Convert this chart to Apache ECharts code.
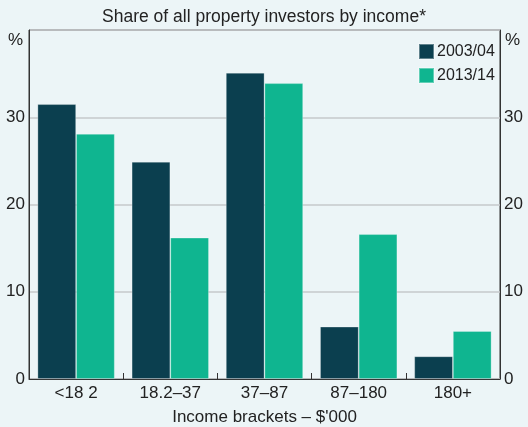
<!DOCTYPE html>
<html lang="en">
<head>
<meta charset="UTF-8">
<title>Property investors by income</title>
<style>
    html, body { margin: 0; padding: 0; background: #ecf5f7; }
    #main { width: 528px; height: 427px; }
</style>
</head>
<body>
<div id="main"></div>
<script src="https://cdn.jsdelivr.net/npm/echarts@6/dist/echarts.min.js"></script>
<script>
    // income brackets ($'000)
    var categories = ['<18 2', '18.2–37', '37–87', '87–180', '180+'];
    // share of property investors, %
    var share0304 = [31.5, 24.9, 35.1, 6.0, 2.6];
    var share1314 = [28.1, 16.2, 33.9, 16.6, 5.5];
    var yTicks = [0, 10, 20, 30, 40];

    var font = 'Liberation Sans, Arial, sans-serif';
    var myChart = echarts.init(document.getElementById('main'));

    var yAxisBase = {
        type: 'value',
        min: yTicks[0],
        max: yTicks[yTicks.length - 1],
        interval: 10,
        axisLine: { show: true, lineStyle: { color: '#333', width: 1 } },
        axisTick: { show: false },
        axisLabel: {
            color: '#222',
            fontSize: 17,
            fontFamily: font,
            margin: 4,
            formatter: function (v) { return v === 40 ? '' : v; }
        }
    };

    myChart.setOption({
        backgroundColor: '#ecf5f7',
        animation: false,
        title: {
            text: 'Share of all property investors by income*',
            left: 'center',
            top: 3,
            textStyle: { color: '#222', fontSize: 17.5, fontWeight: 'normal', fontFamily: font }
        },
        legend: {
            orient: 'vertical',
            left: 418,
            top: 43,
            padding: 0,
            itemWidth: 15,
            itemHeight: 15,
            itemGap: 7,
            icon: 'rect',
            textStyle: { color: '#222', fontSize: 16, fontFamily: font, padding: [0, 0, 0, -2] },
            data: ['2003/04', '2013/14']
        },
        grid: {
            left: 29,
            right: 28,
            top: 30,
            bottom: 48,
            outerBoundsMode: 'none',
            show: true,
            borderColor: '#333',
            borderWidth: 1,
            backgroundColor: 'transparent'
        },
        graphic: [
            { type: 'text', left: 8, top: 32, style: { text: '%', fontSize: 17, fontFamily: font, fill: '#222' } },
            { type: 'text', left: 505, top: 32, style: { text: '%', fontSize: 17, fontFamily: font, fill: '#222' } }
        ],
        xAxis: {
            type: 'category',
            data: categories,
            axisLine: { lineStyle: { color: '#333', width: 1 } },
            axisTick: { show: true, inside: true, length: 6, lineStyle: { color: '#333' } },
            axisLabel: { color: '#222', fontSize: 17, fontFamily: font, margin: 6 },
            name: 'Income brackets – $\'000',
            nameLocation: 'middle',
            nameGap: 30,
            nameTextStyle: { color: '#222', fontSize: 17, fontFamily: font }
        },
        yAxis: [
            Object.assign({}, yAxisBase, {
                position: 'left',
                splitLine: { show: true, lineStyle: { color: '#c6c9cb', width: 1.5 } }
            }),
            Object.assign({}, yAxisBase, {
                position: 'right',
                splitLine: { show: false }
            })
        ],
        series: [{
            name: '2003/04',
            type: 'bar',
            data: share0304,
            barGap: 0,
            barCategoryGap: '18%',
            itemStyle: { color: '#0b3f4f', borderColor: 'rgba(255,255,255,0.35)', borderWidth: 0.8 }
        }, {
            name: '2013/14',
            type: 'bar',
            data: share1314,
            barGap: 0,
            barCategoryGap: '18%',
            itemStyle: { color: '#0fb590', borderColor: 'rgba(255,255,255,0.35)', borderWidth: 0.8 }
        }]
    });
</script>
</body>
</html>
